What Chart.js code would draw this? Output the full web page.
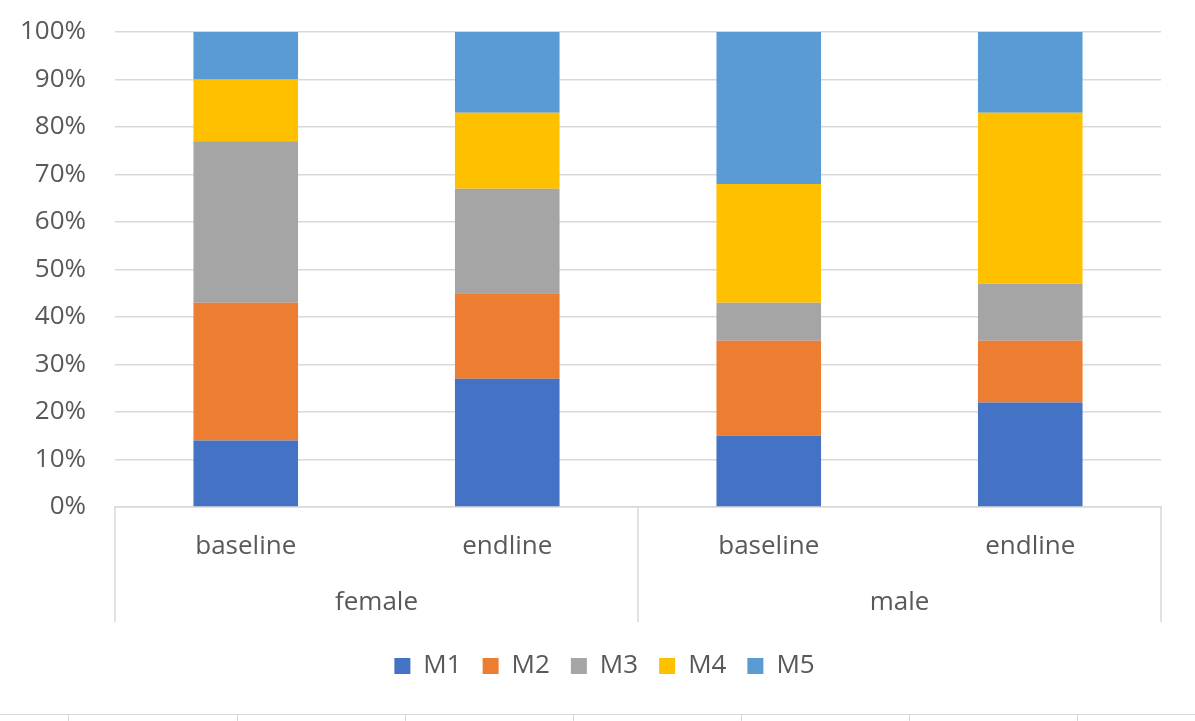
<!DOCTYPE html>
<html lang="en">
  <head>
    <meta charset="UTF-8" />
    <title>M1-M5 by group</title>
    <script src="https://cdn.jsdelivr.net/npm/chart.js"></script>
    <style>
      body { margin: 0; background: #fff; }
      #wrap { position: relative; width: 1195px; height: 714px; }
      #cells { position: relative; width: 1195px; height: 7px; border-top: 1px solid #d9d9d9; }
      #cells div { position: absolute; top: 0; height: 7px; border-left: 1px solid #d9d9d9; }
    </style>
  </head>
  <body>
    <div id="wrap"><canvas id="chart"></canvas></div>
    <div id="cells">
      <div style="left: 68px"></div>
      <div style="left: 237px"></div>
      <div style="left: 405px"></div>
      <div style="left: 573px"></div>
      <div style="left: 741px"></div>
      <div style="left: 909px"></div>
      <div style="left: 1077px"></div>
    </div>
    <script>
      const groups = ["female", "male"];
      const phases = ["baseline", "endline", "baseline", "endline"];
      const seriesNames = ["M1", "M2", "M3", "M4", "M5"];
      const m1 = [14, 27, 15, 22];
      const m2 = [29, 18, 20, 13];
      const m3 = [34, 22, 8, 12];
      const m4 = [13, 16, 25, 36];
      const m5 = [10, 17, 32, 17];
      const colors = ["#4472C4", "#ED7D31", "#A5A5A5", "#FFC000", "#5B9BD5"];

      const textColor = "#595959";
      const lineColor = "#d9d9d9";
      Chart.defaults.font.family = "'Open Sans', sans-serif";
      Chart.defaults.font.size = 26;
      Chart.defaults.color = textColor;

      // group separators of the two-level category axis,
      // and nudge the legend so it is centred on the page like the original
      const groupLines = {
        id: "groupLines",
        afterLayout(chart) {
          chart.legend.left += 14;
          chart.legend.right += 14;
        },
        afterDraw(chart) {
          const x = chart.scales.x;
          const x2 = chart.scales.x2;
          const per = phases.length / groups.length;
          const ctx = chart.ctx;
          ctx.save();
          ctx.strokeStyle = lineColor;
          ctx.lineWidth = 1.5;
          for (let g = 0; g <= groups.length; g++) {
            let px;
            if (g === 0) px = x.left;
            else if (g === groups.length) px = x.right;
            else px = (x.getPixelForValue(g * per - 1) + x.getPixelForValue(g * per)) / 2;
            ctx.beginPath();
            ctx.moveTo(px, x.top);
            ctx.lineTo(px, x2.top + 60);
            ctx.stroke();
          }
          ctx.restore();
        },
      };

      const series = [m1, m2, m3, m4, m5];
      const ctx = document.getElementById("chart").getContext("2d");
      const chart = new Chart(ctx, {
        type: "bar",
        data: {
          labels: phases,
          datasets: series.map((d, i) => ({
            label: seriesNames[i],
            data: d,
            backgroundColor: colors[i],
            barPercentage: 0.4,
            categoryPercentage: 1,
          })),
        },
        options: {
          responsive: true,
          maintainAspectRatio: false,
          animation: false,
          layout: { padding: { top: 32, left: 20, right: 34, bottom: 25 } },
          plugins: {
            tooltip: { enabled: false },
            legend: {
              position: "bottom",
              labels: {
                boxWidth: 16,
                boxHeight: 16,
                padding: 21,
                color: textColor,
                font: { size: 26 },
              },
            },
          },
          scales: {
            x: {
              stacked: true,
              grid: { display: false, drawTicks: false },
              border: { display: true, color: lineColor, width: 1.5 },
              ticks: { padding: 24, color: textColor },
              afterFit(scale) {
                scale.height = 55;
              },
            },
            x2: {
              type: "category",
              labels: groups,
              offset: true,
              position: "bottom",
              grid: { display: false, drawTicks: false },
              border: { display: false },
              ticks: { padding: 25, color: textColor },
              afterFit(scale) {
                scale.height = 70;
              },
            },
            y: {
              stacked: true,
              min: 0,
              max: 100,
              ticks: {
                stepSize: 10,
                padding: 29,
                color: textColor,
                callback: (v) => v + "%",
              },
              grid: { color: lineColor, lineWidth: 1.5, drawTicks: false },
              border: { display: false },
              afterFit(scale) {
                scale.width = 95;
                scale.paddingTop = 0;
                scale.paddingBottom = 0;
              },
            },
          },
        },
        plugins: [groupLines],
      });
    </script>
  </body>
</html>
